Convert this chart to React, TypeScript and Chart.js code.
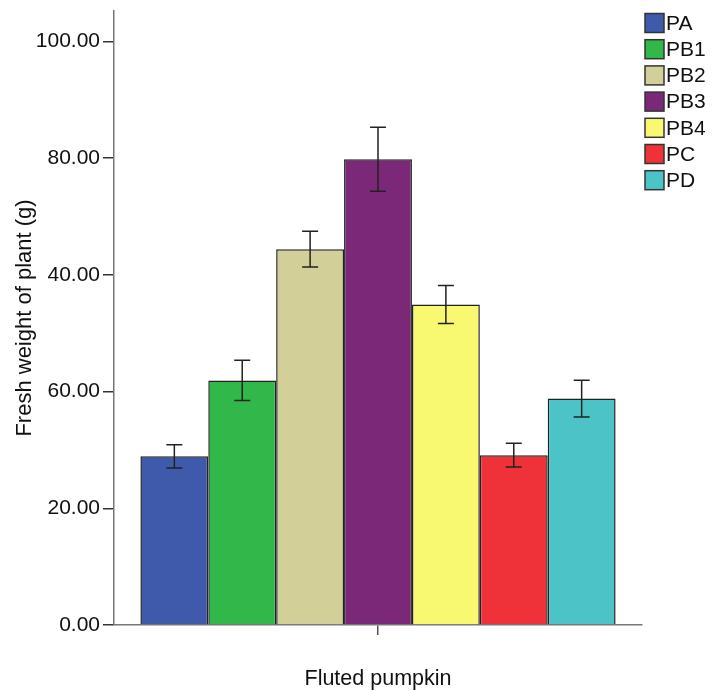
import React, { useEffect, useRef } from "react";
import { Chart, registerables } from "chart.js";

Chart.register(...registerables);

const categories = ["PA", "PB1", "PB2", "PB3", "PB4", "PC", "PD"];
const means = [28.9, 41.9, 64.4, 79.8, 54.9, 29.1, 38.8];
const errors = [2.0, 3.45, 3.05, 5.5, 3.25, 2.05, 3.15];
const colors = ["#3F59AB", "#31B74A", "#D3CF98", "#7B2878", "#F9F871", "#EF3239", "#4BC3C7"];
const yTickValues = [0, 20, 40, 60, 80, 100];
const yTickLabels = ["0.00", "20.00", "60.00", "40.00", "80.00", "100.00"];
const xLabels = ["Fluted pumpkin"];
const yTitle = "Fresh weight of plant (g)";

const FONT = "'Liberation Sans', Arial, sans-serif";

const errorBarPlugin = {
  id: "errorBars",
  afterDatasetsDraw(chart: any) {
    const ctx = chart.ctx;
    const yScale = chart.scales.y;
    ctx.save();
    ctx.strokeStyle = "#222";
    ctx.lineWidth = 1.5;
    chart.data.datasets.forEach((ds: any, i: number) => {
      const meta = chart.getDatasetMeta(i);
      const bar = meta.data[0];
      if (!bar) return;
      const x = bar.x;
      const top = yScale.getPixelForValue(ds.data[0] + errors[i]);
      const bot = yScale.getPixelForValue(ds.data[0] - errors[i]);
      const hw = 8;
      ctx.beginPath();
      ctx.moveTo(x, top);
      ctx.lineTo(x, bot);
      ctx.moveTo(x - hw, top);
      ctx.lineTo(x + hw, top);
      ctx.moveTo(x - hw, bot);
      ctx.lineTo(x + hw, bot);
      ctx.stroke();
    });
    ctx.restore();
  },
};

const legendPlugin = {
  id: "customLegend",
  afterDraw(chart: any) {
    const ctx = chart.ctx;
    ctx.save();
    const x0 = chart.chartArea.right + 3;
    const y0 = 13.5;
    const step = 26.2;
    const size = 19;
    ctx.font = `21px ${FONT}`;
    ctx.textBaseline = "middle";
    ctx.textAlign = "left";
    chart.data.datasets.forEach((ds: any, i: number) => {
      const y = y0 + i * step;
      ctx.fillStyle = ds.backgroundColor;
      ctx.fillRect(x0, y, size, size);
      ctx.strokeStyle = "#333";
      ctx.lineWidth = 1.5;
      ctx.strokeRect(x0, y, size, size);
      ctx.fillStyle = "#111";
      ctx.fillText(ds.label, x0 + size + 2, y + size / 2 + 1);
    });
    ctx.restore();
  },
};

export default function App() {
  const ref = useRef<HTMLCanvasElement>(null);
  useEffect(() => {
    if (!ref.current) return;
    const chart = new Chart(ref.current, {
      type: "bar",
      data: {
        labels: xLabels,
        datasets: categories.map((c, i) => ({
          label: c,
          data: [means[i]],
          backgroundColor: colors[i],
          borderColor: "#222",
          borderWidth: 1.5,
          categoryPercentage: 0.9,
          barPercentage: 1.0,
        })),
      },
      options: {
        responsive: false,
        animation: false,
        layout: { padding: { top: 11, right: 70, left: 0, bottom: 0 } },
        plugins: {
          legend: { display: false },
          tooltip: { enabled: false },
        },
        scales: {
          x: {
            type: "category",
            grid: {
              display: true,
              offset: false,
              drawOnChartArea: false,
              drawTicks: true,
              tickLength: 10,
              color: "#555",
              lineWidth: 1.5,
            },
            border: { display: true, color: "#777", width: 1.5 },
            ticks: {
              padding: 31,
              color: "#111",
              font: { family: FONT, size: 21.5 },
            },
            afterFit(scale: any) {
              scale.height = 66;
              scale.paddingLeft = 0;
              scale.paddingRight = 0;
            },
          },
          y: {
            min: 0,
            max: 105.2,
            grid: {
              display: true,
              drawOnChartArea: false,
              drawTicks: true,
              tickLength: 11,
              color: "#333",
              lineWidth: 1.5,
            },
            border: { display: true, color: "#777", width: 1.5 },
            afterBuildTicks(scale: any) {
              scale.ticks = yTickValues.map((v) => ({ value: v }));
            },
            ticks: {
              padding: 3,
              color: "#111",
              font: { family: FONT, size: 21 },
              callback: (v: any) => {
                const idx = yTickValues.indexOf(Number(v));
                return idx >= 0 ? yTickLabels[idx] : "";
              },
            },
            title: {
              display: true,
              text: yTitle,
              color: "#111",
              font: { family: FONT, size: 22 },
              padding: { top: 12, bottom: 0 },
            },
            afterFit(scale: any) {
              scale.width = 114;
              scale.paddingTop = 0;
              scale.paddingBottom = 0;
            },
          },
        },
      },
      plugins: [errorBarPlugin, legendPlugin],
    });
    return () => chart.destroy();
  }, []);
  return (
    <canvas
      ref={ref}
      width={712}
      height={691}
      style={{ position: "absolute", left: 0, top: 0, display: "block", width: 712, height: 691 }}
    />
  );
}
